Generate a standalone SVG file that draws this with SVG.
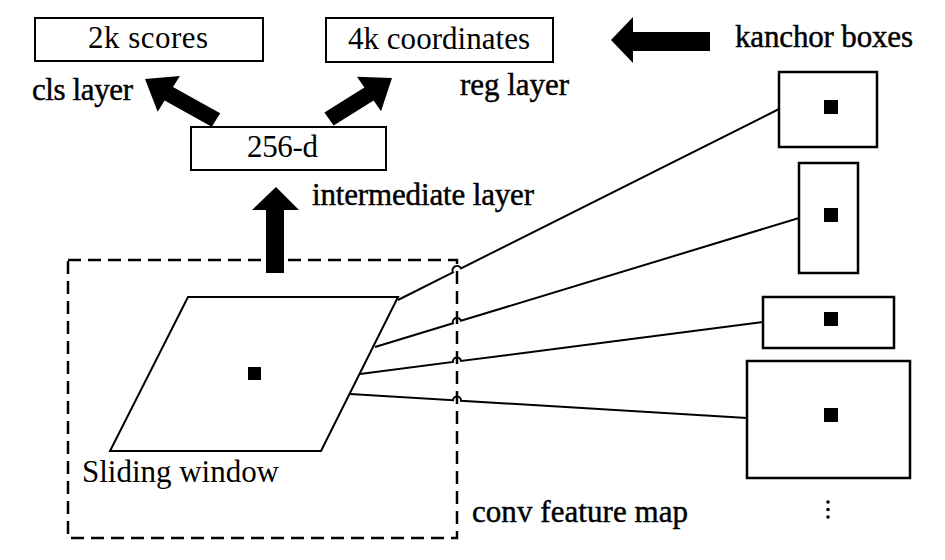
<svg xmlns="http://www.w3.org/2000/svg" width="945" height="560" viewBox="0 0 945 560">
<style>
.box{fill:#fff;stroke:#000;stroke-width:2}
.abox{fill:#fff;stroke:#000;stroke-width:2.5}
.dot{fill:#000}
.arrow{fill:#000;stroke:none}
.conn{fill:none;stroke:#000;stroke-width:2}
</style>
<rect width="945" height="560" fill="#fff"/>
<g id="feature-map">
<rect x="68" y="260" width="389" height="278" fill="none" stroke="#000" stroke-width="2.5" stroke-dasharray="13 7"/>
<text x="472" y="522" textLength="216" style="font-family:'Liberation Serif',serif;font-size:31px;fill:#000;stroke:#000;stroke-width:0.45">conv feature map</text>
</g>
<g id="sliding-window">
<polygon class="box" points="188,297 398,297 321,451 110,451"/>
<rect class="dot" x="248" y="367" width="13" height="13"/>
<text x="82" y="482" textLength="197" style="font-family:'Liberation Serif',serif;font-size:31px;fill:#000">Sliding window</text>
</g>
<g id="scores">
<rect class="box" x="35" y="18" width="228" height="43"/>
<text x="88" y="48" textLength="120" style="font-family:'Liberation Serif',serif;font-size:31px;fill:#000">2k scores</text>
</g>
<g id="coordinates">
<rect class="box" x="326" y="18" width="227" height="44"/>
<text x="348" y="49" textLength="182" style="font-family:'Liberation Serif',serif;font-size:31px;fill:#000">4k coordinates</text>
</g>
<g id="intermediate">
<rect class="box" x="191" y="127" width="195" height="43"/>
<text x="247" y="157" textLength="71" style="font-family:'Liberation Serif',serif;font-size:31px;fill:#000">256-d</text>
</g>
<g id="labels">
<text x="32" y="100" textLength="101" style="font-family:'Liberation Serif',serif;font-size:31px;fill:#000;stroke:#000;stroke-width:0.45">cls layer</text>
<text x="460" y="95" textLength="109" style="font-family:'Liberation Serif',serif;font-size:31px;fill:#000;stroke:#000;stroke-width:0.45">reg layer</text>
<text x="312" y="205" textLength="222" style="font-family:'Liberation Serif',serif;font-size:31px;fill:#000;stroke:#000;stroke-width:0.45">intermediate layer</text>
<text x="735" y="47" textLength="178" style="font-family:'Liberation Serif',serif;font-size:31px;fill:#000;stroke:#000;stroke-width:0.45">kanchor boxes</text>
</g>
<g id="anchor1">
<rect class="abox" x="779" y="72" width="98" height="75"/>
<rect class="dot" x="824" y="100" width="14" height="14"/>
</g>
<g id="anchor2">
<rect class="abox" x="799" y="163" width="59" height="110"/>
<rect class="dot" x="824" y="208" width="14" height="14"/>
</g>
<g id="anchor3">
<rect class="abox" x="763" y="297" width="131" height="51"/>
<rect class="dot" x="824" y="312" width="14" height="14"/>
</g>
<g id="anchor4">
<rect class="abox" x="747" y="361" width="163" height="117"/>
<rect class="dot" x="824" y="408" width="14" height="14"/>
</g>
<g id="ellipsis">
<circle class="dot" cx="828" cy="502" r="1.8"/>
<circle class="dot" cx="828" cy="509.5" r="1.8"/>
<circle class="dot" cx="828" cy="517" r="1.8"/>
</g>
<g id="connectors">
<polygon class="arrow" points="145,79 179.9,75.9 173,87 220.2,113.2 211.8,126.8 164.6,100.6 157.7,111.7"/>
<polygon class="arrow" points="392,78 381,111.2 373.6,100.6 333.6,125.6 324.4,112.4 364.4,87.4 357,76.8"/>
<polygon class="arrow" points="276,187 299,210 284,210 284,273 266,273 266,210 252,210"/>
<polygon class="arrow" points="611,40 633,17 633,32 710,32 710,51 633,51 633,63"/>
<path class="conn" d="M398,300 L453,272.4 A4,4 0 0 1 461,268.4 L779,109"/>
<path class="conn" d="M375,347 L453,323.3 A4,4 0 0 1 461,320.8 L799,218"/>
<path class="conn" d="M360,374 L453,362 A4,4 0 0 1 461,361 L763,322"/>
<path class="conn" d="M350,394 L453,400.2 A4,4 0 0 1 461,400.7 L747,418"/>
</g>
</svg>
